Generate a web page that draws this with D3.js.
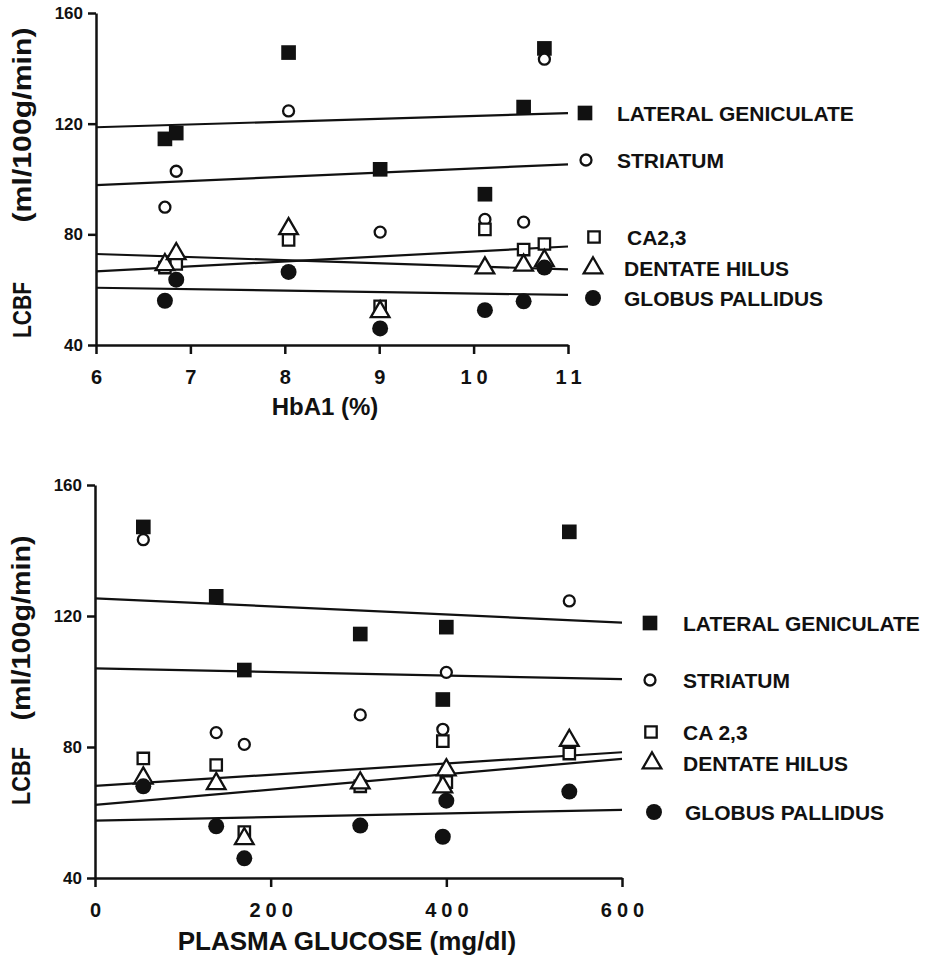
<!DOCTYPE html>
<html>
<head>
<meta charset="utf-8">
<script src="https://cdn.jsdelivr.net/npm/d3@7"></script>
<style>
  body { margin: 0; background: #fff; }
  text { font-family: "Liberation Sans", Arial, sans-serif; font-weight: bold; fill: #111; }
</style>
</head>
<body>
<div id="chart"></div>
<script>
// region names (order = series order)
var regionsTop = ["LATERAL GENICULATE", "STRIATUM", "CA2,3", "DENTATE HILUS", "GLOBUS PALLIDUS"];
var regionsBottom = ["LATERAL GENICULATE", "STRIATUM", "CA 2,3", "DENTATE HILUS", "GLOBUS PALLIDUS"];

// one value per subject (7 subjects), same subjects in both panels
var hba1 = [6.73, 6.85, 8.04, 9.01, 10.12, 10.53, 10.75];
var glucose = [302, 400, 540, 170, 396, 138, 55];

var lateralGeniculate = [114.5, 116.6, 145.7, 103.5, 94.5, 126, 147.2];
var striatum = [89.8, 102.8, 124.6, 80.8, 85.4, 84.4, 143.3];
var ca23 = [68, 69.3, 78, 54, 81.8, 74.5, 76.5];
var dentateHilus = [69, 73, 82, 52, 67.8, 68.8, 70.5];
var globusPallidus = [56, 63.6, 66.4, 46, 52.6, 55.8, 68];

// regression lines, value at start and end of x axis
var hba1FitStart = [118.7, 97.8, 66.6, 72.9, 60.7];
var hba1FitEnd = [123.8, 105.3, 75.6, 67.3, 58.1];
var glucoseFitStart = [125.4, 104, 68.1, 62.3, 57.5];
var glucoseFitEnd = [118, 100.7, 78.4, 76.4, 60.8];

var yTicks = [40, 80, 120, 160];
var hba1Ticks = [6, 7, 8, 9, 10, 11];
var glucoseTicks = [0, 200, 400, 600];

var series = [lateralGeniculate, striatum, ca23, dentateHilus, globusPallidus];

// marker style per series
var marks = [
  {type: d3.symbolSquare, size: 215, fill: "#111", stroke: "none"},
  {type: d3.symbolCircle, size: 95, fill: "#fff", stroke: "#111"},
  {type: d3.symbolSquare, size: 130, fill: "#fff", stroke: "#111"},
  {type: d3.symbolTriangle, size: 150, fill: "#fff", stroke: "#111"},
  {type: d3.symbolCircle, size: 200, fill: "#111", stroke: "none"}
];

var width = 929, height = 959;

var svg = d3.select("#chart")
  .append("svg")
    .attr("width", width)
    .attr("height", height);

svg.append("rect").attr("width", width).attr("height", height).attr("fill", "#fff");

var panels = [
  {
    xs: hba1, xDomain: [6, 11], xRange: [96, 568], yRange: [345, 13],
    xTicks: hba1Ticks, fitStart: hba1FitStart, fitEnd: hba1FitEnd,
    names: regionsTop, xTitle: "HbA1 (%)", xTitleX: 325, xTitleY: 415, xTitleSize: 24,
    ylabX: 31, parenY: 125, parenLen: 195, lcbfY: 310, lcbfLen: 56,
    legMarkX: [585, 586, 594, 593, 593], legTextX: [617, 617, 627, 624, 624],
    legY: [113, 160, 237, 268, 298]
  },
  {
    xs: glucose, xDomain: [0, 600], xRange: [95, 622], yRange: [878, 485],
    xTicks: glucoseTicks, fitStart: glucoseFitStart, fitEnd: glucoseFitEnd,
    names: regionsBottom, xTitle: "PLASMA GLUCOSE (mg/dl)", xTitleX: 347, xTitleY: 950, xTitleSize: 26,
    ylabX: 30, parenY: 628, parenLen: 185, lcbfY: 776, lcbfLen: 58,
    legMarkX: [650, 650, 651, 652, 654], legTextX: [683, 683, 683, 683, 685],
    legY: [623, 680, 732, 763, 812]
  }
];

panels.forEach(function(p) {
  var x = d3.scaleLinear().domain(p.xDomain).range(p.xRange);
  var y = d3.scaleLinear().domain([40, 160]).range(p.yRange);
  var g = svg.append("g");

  // regression lines
  p.fitStart.forEach(function(v, i) {
    g.append("line")
      .attr("x1", x(p.xDomain[0])).attr("y1", y(v))
      .attr("x2", x(p.xDomain[1])).attr("y2", y(p.fitEnd[i]))
      .attr("stroke", "#111")
      .attr("stroke-width", 2.2);
  });

  // points
  series.forEach(function(vals, s) {
    var m = marks[s];
    g.selectAll(null)
      .data(vals)
      .enter().append("path")
        .attr("d", d3.symbol().type(m.type).size(m.size))
        .attr("transform", function(d, i) { return "translate(" + x(p.xs[i]) + "," + y(d) + ")"; })
        .attr("fill", m.fill)
        .attr("stroke", m.stroke)
        .attr("stroke-width", 2.3);
  });

  // axes
  var ya = g.append("g")
    .attr("transform", "translate(" + p.xRange[0] + ",0)")
    .call(d3.axisLeft(y).tickValues(yTicks).tickSize(8).tickSizeOuter(0).tickPadding(5));
  ya.selectAll("text").style("font-size", "17px").style("font-family", "Liberation Sans, Arial");

  var xa = g.append("g")
    .attr("transform", "translate(0," + p.yRange[0] + ")")
    .call(d3.axisBottom(x).tickValues(p.xTicks).tickFormat(d3.format("d")).tickSize(9).tickSizeOuter(0).tickPadding(16));
  xa.selectAll("text")
    .style("font-size", "20px")
    .style("font-family", "Liberation Sans, Arial")
    .style("letter-spacing", "5px")
    .attr("dx", 2.5);

  [ya, xa].forEach(function(a) {
    a.selectAll("path, line").attr("stroke", "#111").attr("stroke-width", 2.5);
  });

  // axis titles
  g.append("text")
    .attr("x", p.xTitleX).attr("y", p.xTitleY)
    .attr("text-anchor", "middle")
    .style("font-size", p.xTitleSize + "px")
    .text(p.xTitle);

  g.append("text")
    .attr("transform", "translate(" + p.ylabX + "," + p.lcbfY + ") rotate(-90)")
    .attr("text-anchor", "middle")
    .attr("textLength", p.lcbfLen).attr("lengthAdjust", "spacingAndGlyphs")
    .style("font-size", "26px")
    .text("LCBF");

  g.append("text")
    .attr("transform", "translate(" + p.ylabX + "," + p.parenY + ") rotate(-90)")
    .attr("text-anchor", "middle")
    .attr("textLength", p.parenLen).attr("lengthAdjust", "spacingAndGlyphs")
    .style("font-size", "26px")
    .text("(ml/100g/min)");

  // legend
  p.names.forEach(function(name, i) {
    var m = marks[i];
    g.append("path")
      .attr("d", d3.symbol().type(m.type).size(m.size))
      .attr("transform", "translate(" + p.legMarkX[i] + "," + p.legY[i] + ")")
      .attr("fill", m.fill)
      .attr("stroke", m.stroke)
      .attr("stroke-width", 2.3);
    g.append("text")
      .attr("x", p.legTextX[i]).attr("y", p.legY[i])
      .attr("dy", "0.36em")
      .style("font-size", "21px")
      .text(name);
  });
});
</script>
</body>
</html>
